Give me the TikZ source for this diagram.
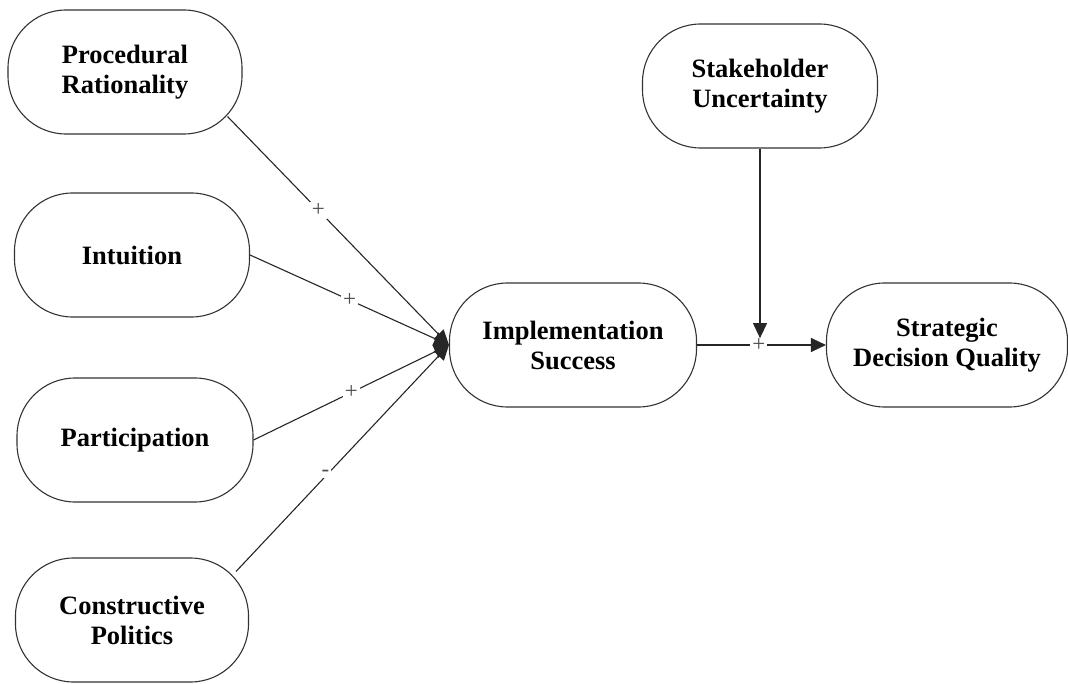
\documentclass[tikz,border=0pt]{standalone}
\usepackage{fontspec}
\setmainfont{Liberation Serif}
\usetikzlibrary{arrows.meta,calc}
\begin{document}
\begin{tikzpicture}[x=1pt,y=-1pt,
  construct/.style={draw=black!80, line width=1.1pt, rounded corners=58pt,
    minimum height=124pt, align=center, inner sep=0pt,
    font=\fontsize{26.5}{30}\selectfont\bfseries},
  link/.style={draw=black!85, line width=1.1pt, -{Triangle[length=15pt,width=14pt]}},
  sign/.style={fill=white, inner sep=2pt, font=\fontsize{23}{23}\selectfont, text=black!70}
]
\useasboundingbox (0,0) rectangle (1068,684);

\node[construct, minimum width=234pt] (proc) at (125,72) {Procedural\\Rationality};
\node[construct, minimum width=235pt] (intu) at (132,255) {Intuition};
\node[construct, minimum width=236pt] (part) at (135,440) {Participation};
\node[construct, minimum width=233pt] (cons) at (132,620) {Constructive\\Politics};
\node[construct, minimum width=247pt] (impl) at (573,345) {Implementation\\Success};
\node[construct, minimum width=235pt] (stak) at (760,86) {Stakeholder\\Uncertainty};
\node[construct, minimum width=241pt] (strat) at (947,345) {Strategic\\Decision Quality};

\coordinate (procout) at ([shift={(-15,-18)}]proc.south east);
\coordinate (consout) at ([shift={(-13,14)}]cons.north east);
\coordinate (modtip) at ($(stak.south)!0.965!(stak.south |- impl.east)$);

\draw[link] (procout) -- node[sign, pos=0.41] {+} (impl.west);
\draw[link] (intu.east) -- node[sign, pos=0.5] {+} (impl.west);
\draw[link] (part.east) -- node[sign, pos=0.5] {+} (impl.west);
\draw[link] (consout) -- node[sign, pos=0.42, yshift=3pt] {-} (impl.west);
\draw[link] (impl.east) -- node[sign, pos=0.48] {+} (strat.west);
\draw[link] (stak.south) -- (modtip);
\end{tikzpicture}
\end{document}
